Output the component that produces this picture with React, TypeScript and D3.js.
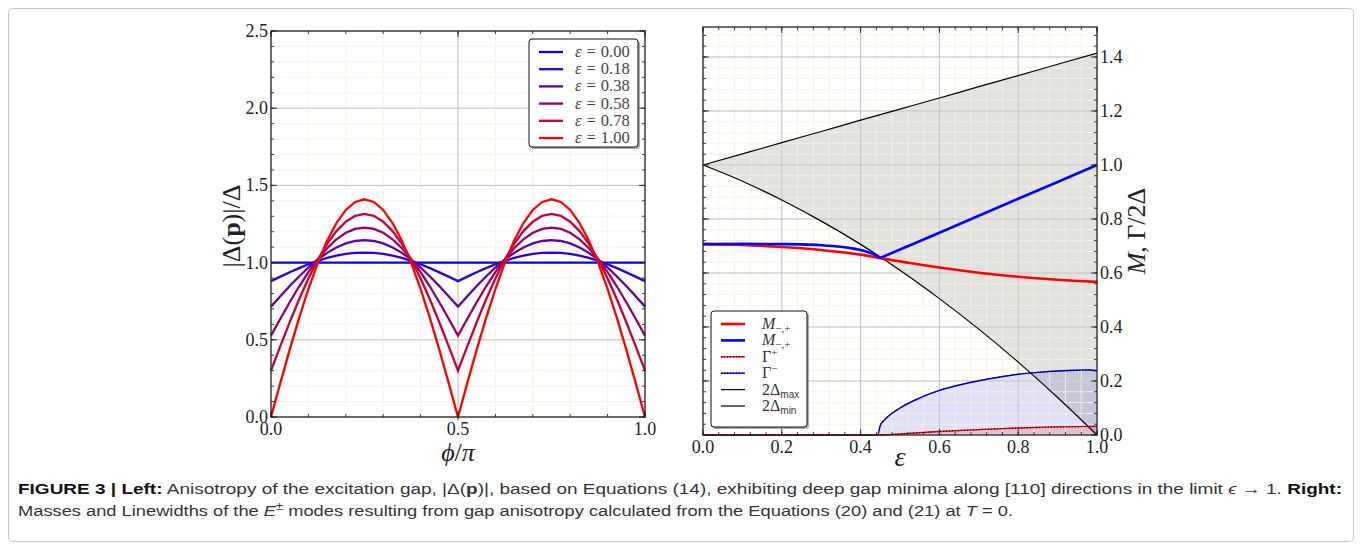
import React from "react";
import * as d3 from "d3";

// ---------- left panel data: |Delta(p)|/Delta vs phi/pi ----------
const phiGrid = [
  0, 0.025, 0.05, 0.075, 0.1, 0.125, 0.15, 0.175, 0.2, 0.225, 0.25, 0.275, 0.3, 0.325, 0.35, 0.375,
  0.4, 0.425, 0.45, 0.475, 0.5, 0.525, 0.55, 0.575, 0.6, 0.625, 0.65, 0.675, 0.7, 0.725, 0.75, 0.775,
  0.8, 0.825, 0.85, 0.875, 0.9, 0.925, 0.95, 0.975, 1,
];
const epsLevels = [0, 0.18, 0.38, 0.58, 0.78, 1.0];
const epsLabels = ["0.00", "0.18", "0.38", "0.58", "0.78", "1.00"];

const gapEps000 = [
  1, 1, 1, 1, 1, 1, 1, 1, 1, 1, 1, 1, 1, 1, 1, 1, 1, 1, 1, 1, 1,
  1, 1, 1, 1, 1, 1, 1, 1, 1, 1, 1, 1, 1, 1, 1, 1, 1, 1, 1, 1,
];
const gapEps018 = [
  0.88, 0.909, 0.937, 0.964, 0.989, 1.011, 1.03, 1.045, 1.056, 1.063, 1.065, 1.063, 1.056, 1.045, 1.03, 1.011,
  0.989, 0.964, 0.937, 0.909, 0.88, 0.909, 0.937, 0.964, 0.989, 1.011, 1.03, 1.045, 1.056, 1.063, 1.065, 1.063,
  1.056, 1.045, 1.03, 1.011, 0.989, 0.964, 0.937, 0.909, 0.88,
];
const gapEps038 = [
  0.715, 0.782, 0.848, 0.91, 0.968, 1.019, 1.063, 1.098, 1.124, 1.14, 1.145, 1.14, 1.124, 1.098, 1.063, 1.019,
  0.968, 0.91, 0.848, 0.782, 0.715, 0.782, 0.848, 0.91, 0.968, 1.019, 1.063, 1.098, 1.124, 1.14, 1.145, 1.14,
  1.124, 1.098, 1.063, 1.019, 0.968, 0.91, 0.848, 0.782, 0.715,
];
const gapEps058 = [
  0.527, 0.636, 0.743, 0.845, 0.938, 1.022, 1.093, 1.151, 1.193, 1.218, 1.227, 1.218, 1.193, 1.151, 1.093, 1.022,
  0.938, 0.845, 0.743, 0.636, 0.527, 0.636, 0.743, 0.845, 0.938, 1.022, 1.093, 1.151, 1.193, 1.218, 1.227, 1.218,
  1.193, 1.151, 1.093, 1.022, 0.938, 0.845, 0.743, 0.636, 0.527,
];
const gapEps078 = [
  0.3, 0.459, 0.614, 0.761, 0.897, 1.018, 1.121, 1.204, 1.265, 1.303, 1.315, 1.303, 1.265, 1.204, 1.121, 1.018,
  0.897, 0.761, 0.614, 0.459, 0.3, 0.459, 0.614, 0.761, 0.897, 1.018, 1.121, 1.204, 1.265, 1.303, 1.315, 1.303,
  1.265, 1.204, 1.121, 1.018, 0.897, 0.761, 0.614, 0.459, 0.3,
];
const gapEps100 = [
  0, 0.221, 0.436, 0.64, 0.829, 0.997, 1.141, 1.256, 1.341, 1.393, 1.41, 1.393, 1.341, 1.256, 1.141, 0.997,
  0.829, 0.64, 0.436, 0.221, 0, 0.221, 0.436, 0.64, 0.829, 0.997, 1.141, 1.256, 1.341, 1.393, 1.41, 1.393,
  1.341, 1.256, 1.141, 0.997, 0.829, 0.64, 0.436, 0.221, 0,
];
const gapSeries = [gapEps000, gapEps018, gapEps038, gapEps058, gapEps078, gapEps100];

const leftXTicks = [0, 0.5, 1.0];
const leftYTicks = [0, 0.5, 1.0, 1.5, 2.0, 2.5];

// ---------- right panel data: M, Gamma / 2 Delta vs epsilon ----------
const bandEps = [0, 0.1, 0.2, 0.3, 0.4, 0.5, 0.6, 0.7, 0.8, 0.9, 1.0];
const twoDeltaMax = [1.0, 1.041, 1.083, 1.124, 1.166, 1.207, 1.248, 1.29, 1.331, 1.373, 1.414];
const twoDeltaMin = [1.0, 0.94, 0.87, 0.792, 0.706, 0.61, 0.505, 0.392, 0.27, 0.139, 0.0];

const mRedEps = [0, 0.1, 0.2, 0.3, 0.4, 0.449, 0.5, 0.6, 0.7, 0.8, 0.9, 1.0];
const mRed = [0.707, 0.704, 0.696, 0.685, 0.668, 0.655, 0.643, 0.62, 0.601, 0.586, 0.575, 0.567];

const mBlueEps = [0, 0.1, 0.2, 0.25, 0.3, 0.35, 0.375, 0.4, 0.425, 0.44, 0.449, 0.5, 0.6, 0.7, 0.8, 0.9, 1.0];
const mBlue = [0.707, 0.708, 0.707, 0.706, 0.703, 0.697, 0.692, 0.685, 0.674, 0.664, 0.655, 0.687, 0.749, 0.812, 0.875, 0.937, 1.0];

const gMinusEps = [0, 0.443, 0.45, 0.46, 0.475, 0.5, 0.55, 0.6, 0.65, 0.7, 0.75, 0.8, 0.85, 0.9, 0.95, 0.98, 1.0];
const gMinus = [0, 0, 0.035, 0.055, 0.075, 0.1, 0.137, 0.165, 0.185, 0.201, 0.214, 0.225, 0.232, 0.237, 0.24, 0.241, 0.237];

const gPlusEps = [0, 0.449, 0.5, 0.6, 0.7, 0.8, 0.9, 1.0];
const gPlus = [0, 0, 0.004, 0.013, 0.02, 0.026, 0.03, 0.032];

const rightXTicks = [0, 0.2, 0.4, 0.6, 0.8, 1.0];
const rightYTicks = [0, 0.2, 0.4, 0.6, 0.8, 1.0, 1.2, 1.4];

const SERIF = "'Liberation Serif', 'DejaVu Serif', serif";
const SANS = "'Liberation Sans', Arial, sans-serif";
const MINOR_GRID = "#fbeee0";
const MAJOR_GRID = "#c2c2c2";

const zip = (xs: number[], ys: number[]) => xs.map((x, i) => [x, ys[i]] as [number, number]);

// frame with inward ticks on all four sides
function Frame({ x, y, xMajor, xMinor, yMajor, yMinor }: any) {
  const [x0, x1] = x.range();
  const [y0, y1] = y.range();
  const ticks: JSX.Element[] = [];
  xMinor.forEach((v: number, i: number) => {
    const px = x(v);
    ticks.push(<line key={`xm${i}`} x1={px} x2={px} y1={y0} y2={y0 - 3} />);
    ticks.push(<line key={`xmt${i}`} x1={px} x2={px} y1={y1} y2={y1 + 3} />);
  });
  xMajor.forEach((v: number, i: number) => {
    const px = x(v);
    ticks.push(<line key={`xM${i}`} x1={px} x2={px} y1={y0} y2={y0 - 6} />);
    ticks.push(<line key={`xMt${i}`} x1={px} x2={px} y1={y1} y2={y1 + 6} />);
  });
  yMinor.forEach((v: number, i: number) => {
    const py = y(v);
    ticks.push(<line key={`ym${i}`} x1={x0} x2={x0 + 3} y1={py} y2={py} />);
    ticks.push(<line key={`ymr${i}`} x1={x1} x2={x1 - 3} y1={py} y2={py} />);
  });
  yMajor.forEach((v: number, i: number) => {
    const py = y(v);
    ticks.push(<line key={`yM${i}`} x1={x0} x2={x0 + 6} y1={py} y2={py} />);
    ticks.push(<line key={`yMr${i}`} x1={x1} x2={x1 - 6} y1={py} y2={py} />);
  });
  return (
    <g stroke="#222" strokeWidth={0.9}>
      {ticks}
      <rect x={x0} y={y1} width={x1 - x0} height={y0 - y1} fill="none" strokeWidth={1.3} />
    </g>
  );
}

function Grid({ x, y, xMajor, xMinor, yMajor, yMinor }: any) {
  const [x0, x1] = x.range();
  const [y0, y1] = y.range();
  return (
    <g>
      <g stroke={MINOR_GRID} strokeWidth={0.9}>
        {xMinor.map((v: number, i: number) => (
          <line key={`gx${i}`} x1={x(v)} x2={x(v)} y1={y0} y2={y1} />
        ))}
        {yMinor.map((v: number, i: number) => (
          <line key={`gy${i}`} x1={x0} x2={x1} y1={y(v)} y2={y(v)} />
        ))}
      </g>
      <g stroke={MAJOR_GRID} strokeWidth={1}>
        {xMajor.map((v: number, i: number) => (
          <line key={`Gx${i}`} x1={x(v)} x2={x(v)} y1={y0} y2={y1} />
        ))}
        {yMajor.map((v: number, i: number) => (
          <line key={`Gy${i}`} x1={x0} x2={x1} y1={y(v)} y2={y(v)} />
        ))}
      </g>
    </g>
  );
}

export default function App() {
  // scales
  const xL = d3.scaleLinear().domain([0, 1]).range([271, 645]);
  const yL = d3.scaleLinear().domain([0, 2.5]).range([417, 31]);
  const xR = d3.scaleLinear().domain([0, 1]).range([703, 1097]);
  const yR = d3.scaleLinear().domain([0, 1.511]).range([435, 27]);

  const colorOf = d3.interpolateRgb("#0000ff", "#ff0000");
  const fmt1 = d3.format(".1f");

  const leftMinorX = d3.range(0, 1.0001, 0.1);
  const leftMinorY = d3.range(0, 2.5001, 0.1);
  const rightMinorX = d3.range(0, 1.0001, 0.04);
  const rightMinorY = d3.range(0, 1.511, 0.04);

  const lineL = d3
    .line<[number, number]>()
    .x((d) => xL(d[0]))
    .y((d) => yL(d[1]));

  const lineR = d3
    .line<[number, number]>()
    .x((d) => xR(d[0]))
    .y((d) => yR(d[1]))
    .curve(d3.curveMonotoneX);

  const lineRLin = d3
    .line<[number, number]>()
    .x((d) => xR(d[0]))
    .y((d) => yR(d[1]));

  const bandArea = d3
    .area<number>()
    .x((_, i) => xR(bandEps[i]))
    .y0((_, i) => yR(twoDeltaMin[i]))
    .y1((_, i) => yR(twoDeltaMax[i]))
    .curve(d3.curveMonotoneX);

  const underArea = d3
    .area<[number, number]>()
    .x((d) => xR(d[0]))
    .y0(yR(0))
    .y1((d) => yR(d[1]))
    .curve(d3.curveMonotoneX);

  const bluePts = zip(mBlueEps, mBlue);
  const blueA = bluePts.filter((d) => d[0] <= 0.449);
  const blueB = bluePts.filter((d) => d[0] >= 0.449);

  // legends
  const legL = { x: 529, y: 39, w: 109, h: 108, row0: 52, step: 17.2 };
  const legR = { x: 711, y: 311, w: 96, h: 116, row0: 324, step: 16.4 };

  return (
    <svg
      width={1362}
      height={550}
      style={{ position: "absolute", left: 0, top: 0, background: "#fff" }}
      fontFamily={SERIF}
    >
      <rect x={8.5} y={8.5} width={1345} height={533} rx={4} fill="#fff" stroke="#c8c8c8" />

      {/* ---------------- left panel ---------------- */}
      <Grid
        x={xL}
        y={yL}
        xMajor={[0.5]}
        xMinor={leftMinorX}
        yMajor={[0.5, 1, 1.5, 2]}
        yMinor={leftMinorY}
      />
      <g fill="none" strokeWidth={2.3}>
        {gapSeries.map((s, k) => (
          <path key={k} d={lineL(zip(phiGrid, s)) || ""} stroke={colorOf(epsLevels[k])} />
        ))}
      </g>
      <Frame x={xL} y={yL} xMajor={leftXTicks} xMinor={leftMinorX} yMajor={leftYTicks} yMinor={leftMinorY} />
      <g fontSize={18} fill="#222">
        {leftXTicks.map((v) => (
          <text key={v} x={xL(v)} y={435} textAnchor="middle">
            {fmt1(v)}
          </text>
        ))}
        {leftYTicks.map((v) => (
          <text key={v} x={268} y={yL(v) + 6} textAnchor="end">
            {fmt1(v)}
          </text>
        ))}
      </g>
      <text x={458} y={461} textAnchor="middle" fontSize={26} fill="#222">
        <tspan fontStyle="italic">ϕ</tspan>/<tspan fontStyle="italic">π</tspan>
      </text>
      <text transform="translate(240,226) rotate(-90)" textAnchor="middle" fontSize={26} fill="#222">
        |Δ(<tspan fontWeight="bold">p</tspan>)|/Δ
      </text>

      {/* left legend */}
      <rect x={legL.x + 2} y={legL.y + 2} width={legL.w} height={legL.h} rx={3} fill="#777" opacity={0.6} />
      <rect x={legL.x} y={legL.y} width={legL.w} height={legL.h} rx={3} fill="#fff" stroke="#111" strokeWidth={1} />
      {epsLevels.map((e, k) => {
        const yy = legL.row0 + k * legL.step;
        return (
          <g key={k}>
            <line x1={539} x2={563} y1={yy} y2={yy} stroke={colorOf(e)} strokeWidth={2.3} />
            <text x={575} y={yy + 5} fontSize={16.5} fill="#444">
              <tspan fontStyle="italic">ε</tspan>
              <tspan dx={5}>=</tspan>
              <tspan dx={5}>{epsLabels[k]}</tspan>
            </text>
          </g>
        );
      })}

      {/* ---------------- right panel ---------------- */}
      <path d={bandArea(bandEps) || ""} fill="#6e6e5a" opacity={0.2} />
      <path d={underArea(zip(gMinusEps, gMinus)) || ""} fill="#3030d0" opacity={0.15} />
      <path d={underArea(zip(gPlusEps, gPlus)) || ""} fill="#ff0000" opacity={0.15} />
      <Grid
        x={xR}
        y={yR}
        xMajor={[0.2, 0.4, 0.6, 0.8]}
        xMinor={rightMinorX}
        yMajor={[0.2, 0.4, 0.6, 0.8, 1.0, 1.2, 1.4]}
        yMinor={rightMinorY}
      />
      <g fill="none">
        <path d={lineR(zip(bandEps, twoDeltaMax)) || ""} stroke="#000" strokeWidth={1.2} />
        <path d={lineR(zip(bandEps, twoDeltaMin)) || ""} stroke="#000" strokeWidth={1.2} />
        <path d={lineR(zip(mRedEps, mRed)) || ""} stroke="#ff0000" strokeWidth={2.6} />
        <path d={lineR(blueA) || ""} stroke="#0000ff" strokeWidth={2.6} />
        <path d={lineRLin(blueB) || ""} stroke="#0000ff" strokeWidth={2.6} />
        <path d={lineR(zip(gMinusEps, gMinus)) || ""} stroke="#0000ff" strokeWidth={1.4} />
        <path d={lineR(zip(gMinusEps, gMinus)) || ""} stroke="#000" strokeWidth={1.2} strokeDasharray="1.2 1.8" />
        <path d={lineR(zip(gPlusEps, gPlus)) || ""} stroke="#ff0000" strokeWidth={1.4} />
        <path d={lineR(zip(gPlusEps, gPlus)) || ""} stroke="#000" strokeWidth={1.2} strokeDasharray="1.2 1.8" />
      </g>
      <Frame x={xR} y={yR} xMajor={rightXTicks} xMinor={rightMinorX} yMajor={rightYTicks} yMinor={rightMinorY} />
      <g fontSize={18} fill="#222">
        {rightXTicks.map((v) => (
          <text key={v} x={xR(v)} y={453} textAnchor="middle">
            {fmt1(v)}
          </text>
        ))}
        {rightYTicks.map((v) => (
          <text key={v} x={1100} y={yR(v) + 6} textAnchor="start">
            {fmt1(v)}
          </text>
        ))}
      </g>
      <text x={900} y={466} textAnchor="middle" fontSize={28} fontStyle="italic" fill="#222">
        ε
      </text>
      <text transform="translate(1145,231) rotate(-90)" textAnchor="middle" fontSize={26} fill="#222">
        <tspan fontStyle="italic">M</tspan>, Γ/2Δ
      </text>

      {/* right legend */}
      <rect x={legR.x + 2} y={legR.y + 2} width={legR.w} height={legR.h} rx={3} fill="#777" opacity={0.6} />
      <rect x={legR.x} y={legR.y} width={legR.w} height={legR.h} rx={3} fill="#fff" stroke="#111" strokeWidth={1} />
      {[
        { c: "#ff0000", w: 2.6, dots: false },
        { c: "#0000ff", w: 2.6, dots: false },
        { c: "#ff0000", w: 1.4, dots: true },
        { c: "#0000ff", w: 1.4, dots: true },
        { c: "#000", w: 1.2, dots: false },
        { c: "#000", w: 1.2, dots: false },
      ].map((s, k) => {
        const yy = legR.row0 + k * legR.step;
        return (
          <g key={k}>
            <line x1={721} x2={745} y1={yy} y2={yy} stroke={s.c} strokeWidth={s.w} />
            {s.dots && <line x1={721} x2={745} y1={yy} y2={yy} stroke="#000" strokeWidth={1.2} strokeDasharray="1.2 1.8" />}
          </g>
        );
      })}
      <g fontSize={16} fill="#333">
        <text x={762} y={legR.row0 + 5}>
          <tspan fontStyle="italic">M</tspan>
          <tspan fontSize={11} dy={3}>−,+</tspan>
        </text>
        <text x={762} y={legR.row0 + legR.step + 5}>
          <tspan fontStyle="italic">M</tspan>
          <tspan fontSize={11} dy={3}>−,+</tspan>
        </text>
        <text x={762} y={legR.row0 + 2 * legR.step + 5}>
          Γ<tspan fontSize={11} dy={-6}>+</tspan>
        </text>
        <text x={762} y={legR.row0 + 3 * legR.step + 5}>
          Γ<tspan fontSize={11} dy={-6}>−</tspan>
        </text>
        <text x={762} y={legR.row0 + 4 * legR.step + 5}>
          2Δ<tspan fontSize={10} dy={3} fontFamily={SANS}>max</tspan>
        </text>
        <text x={762} y={legR.row0 + 5 * legR.step + 5}>
          2Δ<tspan fontSize={10} dy={3} fontFamily={SANS}>min</tspan>
        </text>
      </g>

      {/* caption */}
      <g fontFamily={"'Liberation Sans Narrow', 'Liberation Sans', Arial, sans-serif"} fontSize={15.5} fill="#333">
        <text x={18} y={494} textLength={1324} lengthAdjust="spacingAndGlyphs">
          <tspan fontWeight="bold" fill="#111">FIGURE 3 | Left:</tspan>
          <tspan> Anisotropy of the excitation gap, |Δ(</tspan>
          <tspan fontWeight="bold">p</tspan>
          <tspan>)|, based on Equations (14), exhibiting deep gap minima along [110] directions in the limit </tspan>
          <tspan fontStyle="italic">ϵ</tspan>
          <tspan> → 1. </tspan>
          <tspan fontWeight="bold" fill="#111">Right:</tspan>
        </text>
        <text x={18} y={516} textLength={995} lengthAdjust="spacingAndGlyphs">
          <tspan>Masses and Linewidths of the </tspan>
          <tspan fontStyle="italic">E</tspan>
          <tspan fontSize={11} dy={-6}>±</tspan>
          <tspan dy={6}> modes resulting from gap anisotropy calculated from the Equations (20) and (21) at </tspan>
          <tspan fontStyle="italic">T</tspan>
          <tspan> = 0.</tspan>
        </text>
      </g>
    </svg>
  );
}
